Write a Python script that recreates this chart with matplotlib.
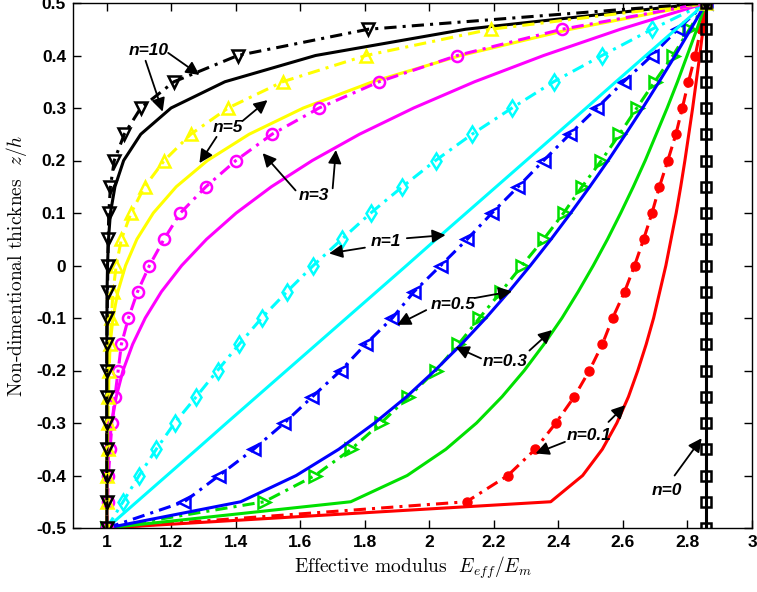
import matplotlib
matplotlib.use("Agg")
import matplotlib.pyplot as plt

plt.rcParams['axes.unicode_minus'] = False
plt.rcParams['mathtext.fontset'] = 'cm'

# thickness coordinate z/h (sampling of every curve)
z = [-0.5, -0.45, -0.4, -0.35, -0.3, -0.25, -0.2, -0.15, -0.1, -0.05, 0.0,
     0.05, 0.1, 0.15, 0.2, 0.25, 0.3, 0.35, 0.4, 0.45, 0.5]

# solid curves
solid_n0 = [2.857] * 21
solid_n01 = [1.0, 2.376, 2.475, 2.536, 2.581, 2.617, 2.646, 2.672, 2.695, 2.714, 2.733,
             2.749, 2.765, 2.779, 2.792, 2.804, 2.816, 2.827, 2.838, 2.848, 2.857]
solid_n03 = [1.0, 1.756, 1.931, 2.051, 2.146, 2.225, 2.294, 2.355, 2.411, 2.461, 2.508,
             2.552, 2.593, 2.632, 2.669, 2.703, 2.737, 2.769, 2.799, 2.829, 2.857]
solid_n05 = [1.0, 1.415, 1.587, 1.719, 1.830, 1.929, 2.017, 2.099, 2.175, 2.246, 2.313,
             2.377, 2.438, 2.497, 2.554, 2.608, 2.661, 2.712, 2.762, 2.810, 2.857]
solid_n1 = [1.0, 1.093, 1.186, 1.279, 1.371, 1.464, 1.557, 1.650, 1.743, 1.836, 1.929,
            2.021, 2.114, 2.207, 2.300, 2.393, 2.486, 2.578, 2.671, 2.764, 2.857]
solid_n3 = [1.0, 1.0002, 1.002, 1.006, 1.015, 1.029, 1.050, 1.080, 1.119, 1.169, 1.232,
            1.309, 1.401, 1.510, 1.637, 1.783, 1.951, 2.140, 2.354, 2.592, 2.857]
solid_n5 = [1.0, 1.0, 1.0, 1.0001, 1.0006, 1.002, 1.0045, 1.010, 1.019, 1.034, 1.058,
            1.093, 1.144, 1.215, 1.312, 1.441, 1.609, 1.824, 2.097, 2.437, 2.857]
solid_n10 = [1.0, 1.0, 1.0, 1.0, 1.0, 1.0, 1.0, 1.0, 1.0002, 1.0006, 1.002,
             1.005, 1.011, 1.025, 1.052, 1.105, 1.199, 1.366, 1.647, 2.112, 2.857]

# dash-dot curves with markers
dd_n0 = [2.857] * 21
dd_n01 = [1.0, 2.115, 2.243, 2.328, 2.392, 2.449, 2.496, 2.536, 2.568, 2.605, 2.636,
          2.664, 2.690, 2.713, 2.739, 2.764, 2.784, 2.803, 2.824, 2.841, 2.857]
dd_n03 = [1.0, 1.488, 1.645, 1.757, 1.850, 1.935, 2.020, 2.090, 2.155, 2.222, 2.287,
          2.354, 2.416, 2.473, 2.533, 2.589, 2.643, 2.698, 2.755, 2.806, 2.857]
dd_n05 = [1.0, 1.240, 1.348, 1.455, 1.550, 1.637, 1.725, 1.802, 1.885, 1.952, 2.035,
          2.117, 2.194, 2.275, 2.354, 2.435, 2.519, 2.602, 2.690, 2.770, 2.857]
dd_n1 = [1.0, 1.050, 1.100, 1.153, 1.210, 1.277, 1.343, 1.410, 1.480, 1.558, 1.640,
         1.728, 1.818, 1.916, 2.019, 2.132, 2.256, 2.385, 2.535, 2.690, 2.857]
dd_n3 = [1.0, 1.002, 1.005, 1.010, 1.016, 1.025, 1.035, 1.045, 1.067, 1.095, 1.132,
         1.177, 1.228, 1.307, 1.400, 1.512, 1.658, 1.844, 2.086, 2.411, 2.857]
dd_n5 = [1.0, 1.0, 1.001, 1.002, 1.003, 1.005, 1.007, 1.010, 1.014, 1.019, 1.029,
         1.045, 1.075, 1.117, 1.178, 1.260, 1.376, 1.545, 1.803, 2.190, 2.857]
dd_n10 = [1.0, 1.0, 1.0, 1.0, 1.0, 1.0, 1.0, 1.0, 1.001, 1.002, 1.003,
          1.004, 1.006, 1.011, 1.023, 1.054, 1.105, 1.208, 1.406, 1.810, 2.857]

# labels: text, text position, arrow heads, arrow tails
labels = [
    ('n=10', (1.13, 0.41), [(1.173, 0.293), (1.287, 0.363)], [(1.12, 0.39), (1.19, 0.405)]),
    ('n=5', (1.374, 0.262), [(1.498, 0.315), (1.287, 0.195)], [(1.42, 0.275), (1.34, 0.245)]),
    ('n=3', (1.643, 0.134), [(1.483, 0.214), (1.71, 0.22)], [(1.585, 0.143), (1.70, 0.147)]),
    ('n=1', (1.864, 0.045), [(1.689, 0.023), (2.05, 0.058)], [(1.80, 0.034), (1.93, 0.052)]),
    ('n=0.5', (2.075, -0.075), [(1.90, -0.113), (2.256, -0.049)], [(1.99, -0.085), (2.14, -0.062)]),
    ('n=0.3', (2.236, -0.183), [(2.081, -0.155), (2.38, -0.123)], [(2.16, -0.177), (2.31, -0.162)]),
    ('n=0.1', (2.494, -0.323), [(2.329, -0.358), (2.607, -0.266)], [(2.42, -0.336), (2.555, -0.298)]),
    ('n=0', (2.736, -0.428), [(2.844, -0.329)], [(2.76, -0.40)]),
]

fig = plt.figure(figsize=(7.57, 5.92), dpi=100)
ax = fig.add_axes([73 / 757, 64 / 592, 679 / 757, 525 / 592])

dd = dict(lw=2.2, dashes=(4, 2, 1, 2), mew=1.8, ms=8)

# dash-dot model curves (low n first)
ax.plot(dd_n01, z, color='red', marker='o', mfc='red', mec='red',
        lw=2.2, dashes=(4, 2, 1, 2), ms=6.5)
ax.plot(dd_n03, z, color='#00e000', marker='>', mfc='none', mec='#00e000', **dd)
ax.plot(dd_n05, z, color='blue', marker='<', mfc='none', mec='blue', **dd)
ax.plot(dd_n1, z, color='cyan', marker='d', mfc='none', mec='cyan', **dd)

# solid curves
ax.plot(solid_n01, z, color='red', lw=2.2)
ax.plot(solid_n03, z, color='#00e000', lw=2.2)
ax.plot(solid_n05, z, color='blue', lw=2.2)
ax.plot(solid_n1, z, color='cyan', lw=2.2)
ax.plot(solid_n3, z, color='magenta', lw=2.2)
ax.plot(solid_n5, z, color='yellow', lw=2.2)
ax.plot(solid_n10, z, color='black', lw=2.2)

ax.plot(dd_n3, z, color='magenta', marker='o', mfc='none', mec='magenta', **dd)
ax.plot(dd_n5, z, color='yellow', marker='^', mfc='none', mec='yellow', **dd)
ax.plot(dd_n10, z, color='black', marker='v', mfc='none', mec='black', **dd)

ax.plot(solid_n0, z, color='black', lw=2.2)
ax.plot(dd_n0, z, color='black', marker='s', mfc='none', mec='black', mew=1.8, ms=7, ls='none')

for text, pos, heads, tails in labels:
    ax.text(pos[0], pos[1], text, fontsize=12.5, fontweight='bold', fontstyle='italic',
            ha='center', va='center', family='Liberation Sans')
    for h, t in zip(heads, tails):
        ax.annotate('', xy=h, xytext=t,
                    arrowprops=dict(arrowstyle='-|>', color='k', lw=1.3, mutation_scale=20,
                                    shrinkA=0, shrinkB=0))

ax.set_xlim(0.895, 3.0)
ax.set_ylim(-0.5, 0.5)
xt = [1, 1.2, 1.4, 1.6, 1.8, 2, 2.2, 2.4, 2.6, 2.8, 3]
yt = [-0.5, -0.4, -0.3, -0.2, -0.1, 0, 0.1, 0.2, 0.3, 0.4, 0.5]
ax.set_xticks(xt)
ax.set_xticklabels([f'{v:g}' for v in xt])
ax.set_yticks(yt)
ax.set_yticklabels([f'{v:g}' for v in yt])
ax.tick_params(direction='in', top=True, right=True, length=6, width=1, labelsize=12.5, pad=5)
for lab in ax.get_xticklabels() + ax.get_yticklabels():
    lab.set_fontweight('bold')
    lab.set_family('Liberation Sans')
for s in ax.spines.values():
    s.set_linewidth(1)

ax.set_xlabel(r'Effective modulus  $E_{eff}/E_m$', fontsize=14, family='cmr10', labelpad=3)
ax.set_ylabel(r'Non-dimentional thicknes  $z/h$', fontsize=14, family='cmr10', labelpad=5)

fig.savefig('out.png', dpi=100)
